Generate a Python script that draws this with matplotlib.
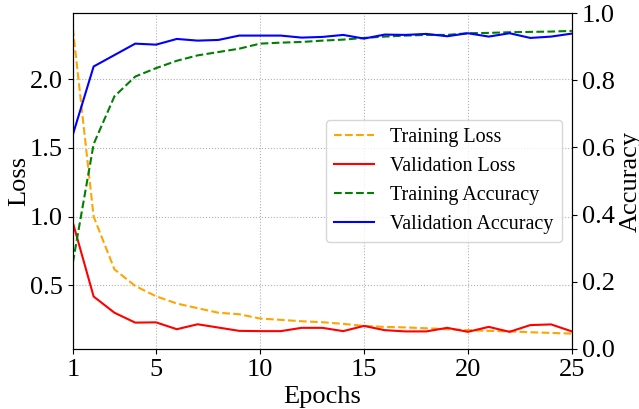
import matplotlib
matplotlib.use('Agg')
import matplotlib.pyplot as plt
import numpy as np

plt.rcParams['font.family'] = ['Liberation Serif', 'DejaVu Serif']
plt.rcParams['mathtext.fontset'] = 'stix'

# values
epochs = np.arange(1, 26)
train_loss = [2.37, 1.00, 0.616, 0.495, 0.42, 0.367, 0.333, 0.30, 0.289, 0.258,
              0.248, 0.238, 0.231, 0.219, 0.204, 0.197, 0.193, 0.187, 0.18, 0.173,
              0.168, 0.164, 0.158, 0.153, 0.148]
val_loss = [0.956, 0.418, 0.30, 0.228, 0.23, 0.18, 0.216, 0.192, 0.168, 0.166,
            0.166, 0.19, 0.19, 0.166, 0.204, 0.173, 0.164, 0.164, 0.19, 0.161,
            0.197, 0.161, 0.21, 0.215, 0.164]
train_acc = [0.257, 0.61, 0.752, 0.811, 0.836, 0.858, 0.874, 0.884, 0.894, 0.909,
             0.912, 0.914, 0.918, 0.921, 0.926, 0.930, 0.933, 0.935, 0.935, 0.940,
             0.941, 0.943, 0.944, 0.945, 0.947]
val_acc = [0.638, 0.841, 0.875, 0.909, 0.906, 0.923, 0.918, 0.920, 0.933, 0.933,
           0.933, 0.927, 0.929, 0.935, 0.924, 0.936, 0.935, 0.938, 0.931, 0.940,
           0.930, 0.940, 0.926, 0.930, 0.939]
xticks = [1, 5, 10, 15, 20, 25]

fig, ax1 = plt.subplots(figsize=(6.39, 4.09), dpi=100)
fig.subplots_adjust(left=0.114, right=0.895, top=0.968, bottom=0.147)

l1, = ax1.plot(epochs, train_loss, '--', color='orange', linewidth=1.5, label='Training Loss')
l2, = ax1.plot(epochs, val_loss, '-', color='red', linewidth=1.5, label='Validation Loss')
ax1.set_xlim(1, 25)
ax1.set_xticks(xticks)
ax1.set_xlabel('Epochs', size=19)
ax1.set_ylabel('Loss', size=19, labelpad=0)
ax1.tick_params(labelsize=19)
ax1.grid(True, linestyle=':', color='#b0b0b0', linewidth=0.8)

ax2 = ax1.twinx()
l3, = ax2.plot(epochs, train_acc, '--', color='green', linewidth=1.5, label='Training Accuracy')
l4, = ax2.plot(epochs, val_acc, '-', color='blue', linewidth=1.5, label='Validation Accuracy')
ax2.set_ylim(0, 1)
ax2.set_ylabel('Accuracy', size=19)
ax2.tick_params(labelsize=19)

lines = [l1, l2, l3, l4]
ax2.legend(lines, [l.get_label() for l in lines], loc='center right', fontsize=14.5)

fig.savefig('out.png', dpi=100)
